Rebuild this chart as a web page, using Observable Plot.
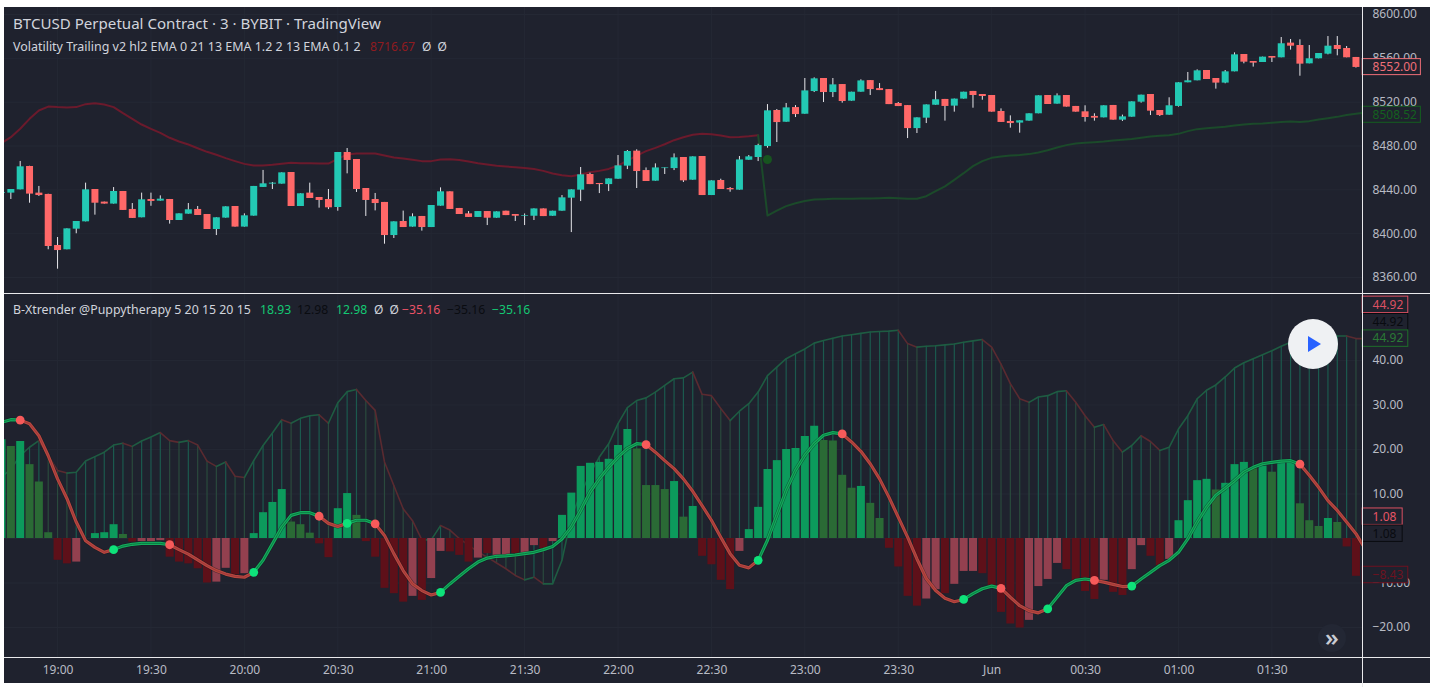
<!DOCTYPE html>
<html><head><meta charset="utf-8">
<script src="https://cdn.jsdelivr.net/npm/d3@7"></script>
<script src="https://cdn.jsdelivr.net/npm/@observablehq/plot@0.6"></script>
<style>
html,body{margin:0;padding:0;background:#fff;overflow:hidden}
#chart{position:absolute;left:0;top:0;width:1439px;height:694px;font-family:"Noto Sans",sans-serif}
#bg{position:absolute;left:4px;top:7px;width:1426px;height:676px;background:#1f222e}
.pane{position:absolute;left:4px}
.pane svg{display:block;overflow:visible}
.line{position:absolute;background:#e9e9ec}
.t{position:absolute;white-space:pre;line-height:16px;color:#c9ccd4}
#play{position:absolute;left:1288px;top:319px;width:50px;height:50px;border-radius:50%;background:#eff1f3}
#play:after{content:"";position:absolute;left:20px;top:17px;border-left:13px solid #2962ff;border-top:8px solid transparent;border-bottom:8px solid transparent}
#more{position:absolute;left:1318px;top:624px;width:28px;height:28px;border-radius:50%;background:#232734;color:#c9ccd4;font-size:24px;font-weight:600;line-height:25px;text-align:center}
</style></head><body>
<div id="chart"><div id="bg"></div></div>
<script>
const firstBar = -6;
const opens = [
8436.9,8437.0,8440.0,8461.3,8437.0,8435.8,8389.2,8385.3,8404.1,8410.8,
8440.3,8428.8,8427.0,8438.5,8422.1,8414.5,8431.2,8429.7,8431.2,8412.0,
8417.8,8422.1,8417.5,8403.8,8414.2,8424.8,8406.0,8416.0,8442.2,8445.2,
8445.2,8455.8,8424.8,8437.0,8433.0,8431.2,8423.9,8474.1,8467.7,8441.2,
8431.2,8428.5,8398.3,8411.1,8406.0,8415.7,8405.6,8425.1,8438.2,8423.0,
8418.1,8414.8,8420.2,8414.1,8420.5,8417.5,8415.9,8415.9,8422.6,8415.9,
8420.5,8432.4,8439.7,8454.0,8445.8,8444.8,8449.7,8461.6,8475.3,8457.6,
8447.9,8459.4,8459.4,8469.5,8448.8,8470.4,8434.8,8448.5,8441.2,8439.7,
8467.0,8469.5,8479.5,8512.4,8501.7,8515.1,8509.0,8529.7,8541.6,8528.8,
8536.1,8520.9,8529.1,8539.7,8532.4,8531.5,8518.8,8516.9,8495.9,8505.4,
8517.2,8522.5,8516.4,8522.8,8529.8,8527.0,8526.1,8511.5,8502.4,8500.9,
8502.7,8509.4,8526.1,8518.2,8526.1,8516.1,8511.2,8507.0,8505.7,8517.0,
8503.6,8506.3,8520.0,8527.0,8512.4,8508.1,8516.1,8537.7,8539.5,8548.9,
8541.6,8537.4,8547.7,8563.5,8557.1,8556.2,8561.7,8560.5,8573.9,8571.7,
8555.0,8559.6,8563.8,8571.7,8569.0,8560.8];
const closes = [
8437.6,8440.3,8461.0,8436.1,8434.8,8388.3,8384.6,8404.4,8411.1,8440.0,
8427.8,8427.0,8438.5,8421.2,8413.9,8430.9,8429.4,8431.5,8412.0,8418.1,
8421.8,8416.6,8403.8,8414.5,8424.5,8406.0,8416.3,8443.1,8445.5,8446.1,
8455.5,8424.8,8436.4,8432.1,8430.3,8423.6,8474.1,8466.8,8440.3,8430.3,
8427.5,8398.3,8410.8,8405.6,8415.4,8405.6,8425.7,8438.2,8422.1,8417.5,
8414.8,8420.2,8414.1,8419.9,8416.5,8415.9,8416.5,8422.6,8415.6,8420.5,
8432.7,8440.0,8453.7,8444.8,8444.8,8450.0,8461.9,8475.0,8456.7,8447.6,
8460.0,8460.0,8469.2,8448.2,8470.1,8434.8,8448.2,8440.3,8440.0,8467.3,
8470.1,8480.4,8512.1,8501.4,8514.8,8508.7,8530.3,8541.3,8528.8,8535.8,
8520.6,8529.1,8539.4,8531.5,8530.6,8517.8,8516.0,8495.9,8505.7,8517.5,
8522.2,8516.1,8522.8,8529.1,8526.1,8525.2,8510.9,8501.5,8500.5,8503.0,
8509.4,8525.8,8517.9,8525.8,8515.5,8510.9,8506.0,8505.4,8516.7,8503.6,
8506.6,8520.3,8526.4,8511.8,8507.8,8516.7,8537.7,8539.5,8548.6,8540.7,
8537.4,8547.7,8563.2,8556.5,8555.6,8561.1,8560.2,8573.3,8571.1,8554.7,
8559.6,8564.4,8571.1,8568.1,8560.5,8551.7];
const highs = [
8438.5,8440.3,8465.9,8461.5,8443.1,8436.0,8396.5,8404.4,8411.1,8446.1,
8440.3,8428.8,8442.1,8438.5,8427.5,8437.0,8437.0,8434.5,8431.2,8418.1,
8427.5,8424.8,8417.5,8414.5,8424.5,8424.8,8418.1,8443.1,8457.7,8446.7,
8455.5,8455.8,8436.4,8446.1,8433.0,8440.3,8474.1,8477.7,8467.7,8441.2,
8436.7,8428.5,8410.8,8420.6,8418.1,8415.7,8425.7,8441.8,8438.2,8423.0,
8420.2,8420.2,8420.2,8419.9,8420.5,8417.5,8418.0,8422.6,8422.6,8420.5,
8434.8,8440.0,8460.4,8455.2,8445.8,8450.0,8471.3,8475.9,8476.5,8460.0,
8463.7,8460.0,8472.8,8469.5,8470.1,8470.4,8448.2,8449.7,8442.1,8470.4,
8471.3,8481.6,8517.8,8513.3,8518.8,8516.9,8541.6,8542.2,8541.6,8541.6,
8536.1,8529.1,8540.4,8539.7,8537.0,8531.5,8519.7,8516.9,8505.7,8517.5,
8529.8,8522.5,8522.8,8529.1,8529.8,8527.0,8526.1,8513.9,8507.5,8503.0,
8509.4,8525.8,8526.1,8527.6,8526.1,8516.1,8516.7,8509.4,8516.7,8517.0,
8508.2,8520.3,8526.4,8527.0,8512.4,8524.0,8537.7,8547.1,8549.5,8548.9,
8541.6,8548.9,8565.0,8563.5,8557.1,8561.1,8561.7,8579.0,8577.2,8576.9,
8571.7,8564.4,8579.9,8579.9,8570.8,8560.8];
const lows = [
8436.5,8431.2,8440.0,8427.8,8434.0,8385.3,8367.6,8385.3,8399.9,8410.8,
8416.9,8427.0,8427.0,8421.2,8413.9,8414.5,8425.0,8429.7,8408.7,8412.0,
8417.8,8416.6,8403.8,8398.3,8414.2,8406.0,8406.0,8416.0,8442.2,8440.3,
8445.2,8424.8,8424.8,8432.1,8423.3,8422.0,8420.5,8454.6,8437.6,8415.7,
8420.8,8390.4,8395.6,8405.6,8406.0,8402.3,8405.6,8425.1,8422.1,8417.5,
8414.8,8414.8,8407.4,8414.1,8416.5,8411.1,8407.4,8412.0,8415.6,8415.9,
8420.5,8401.0,8429.3,8444.8,8436.6,8438.4,8449.7,8458.5,8441.2,8447.6,
8447.9,8454.0,8457.6,8446.7,8448.8,8434.8,8434.8,8440.3,8437.8,8439.7,
8467.0,8465.8,8478.0,8483.2,8501.7,8506.0,8509.0,8528.8,8519.7,8524.2,
8519.1,8520.9,8529.1,8526.1,8530.6,8517.8,8516.0,8486.8,8491.4,8500.5,
8517.2,8502.7,8510.9,8522.8,8514.5,8521.8,8510.9,8501.5,8496.3,8491.7,
8502.7,8509.4,8517.9,8518.2,8515.5,8510.9,8501.8,8502.7,8505.7,8503.6,
8502.4,8506.3,8519.1,8507.8,8506.9,8508.1,8515.5,8537.7,8539.5,8540.7,
8531.9,8536.8,8547.7,8555.0,8552.0,8556.2,8556.2,8560.5,8567.5,8543.7,
8555.0,8559.6,8563.2,8562.3,8560.5,8551.1];
// trailing stop: red from the first bar to bar 75, green from bar 75 on (runs into the axis)
const trailRed = [
8482.6,8488.1,8495.7,8504.8,8512.4,8516.0,8515.5,8515.2,8515.5,8518.2,
8519.1,8517.9,8515.5,8510.0,8504.8,8499.6,8495.7,8492.0,8487.5,8484.1,
8481.4,8478.0,8474.7,8472.0,8468.9,8466.2,8463.7,8462.2,8462.2,8462.8,
8463.7,8464.7,8464.3,8464.3,8464.0,8464.0,8468.3,8472.3,8473.2,8473.2,
8473.2,8471.3,8469.5,8468.6,8467.4,8466.2,8466.2,8467.7,8468.0,8467.3,
8465.8,8464.3,8463.1,8461.9,8461.3,8460.7,8460.0,8459.1,8457.3,8454.9,
8453.4,8452.4,8454.0,8456.1,8457.3,8459.1,8462.2,8466.7,8471.3,8475.3,
8478.3,8481.6,8485.3,8488.0,8490.2,8491.1,8490.8,8489.6,8488.0,8488.3,
8489.0,8489.9];
const trailGreenStart = 75;
const trailGreen = [
8489.9,8416.5,8421.1,8425.1,8427.8,8429.9,8431.1,8431.5,8431.8,8431.8,
8431.8,8432.1,8432.1,8432.4,8432.7,8432.4,8431.8,8431.8,8434.2,8438.8,
8443.1,8449.1,8455.2,8461.6,8466.2,8469.2,8470.4,8471.3,8471.7,8472.6,
8474.1,8476.2,8478.6,8480.8,8482.3,8482.9,8483.5,8484.1,8485.0,8485.6,
8486.3,8487.5,8488.7,8489.3,8489.9,8491.1,8493.6,8495.4,8496.3,8496.9,
8497.5,8498.7,8499.6,8500.2,8500.5,8501.2,8501.8,8502.4,8501.8,8502.7,
8504.2,8505.4,8506.6,8508.2,8509.4,8510.6];
const trailDot = {bar:76, price:8467.7};
const histValues = [
22.2,20.7,21.8,16.6,12.7,1.3,-4.9,-5.7,-5.3,0,
1.1,1.3,3.1,0.9,-0.8,-0.7,-0.7,-0.5,-4.2,-5.3,
-5.7,-6.8,-10.0,-9.8,-6.7,-8.2,-7.9,1.1,5.8,8.1,
11.0,3.7,3.1,1.2,-1.2,-4.3,6.7,10.1,5.2,-0.7,
-4.2,-11.2,-12.4,-14.3,-13.0,-13.9,-9.0,-2.9,-3.0,-3.8,
-5.3,-4.4,-3.4,-3.8,-3.8,-3.4,-3.7,-1.6,-2.3,-0.7,
5.2,10.2,16.2,16.9,17.1,17.8,20.9,24.5,20.1,11.9,
11.9,11.0,12.8,4.8,7.2,-4.0,-5.9,-9.4,-11.5,-2.9,
2.0,7.0,15.5,17.5,20.0,20.2,22.9,25.2,22.0,21.9,
14.2,11.3,11.7,7.9,4.5,-2.2,-6.4,-13.0,-15.2,-13.6,
-11.5,-12.4,-10.3,-7.4,-7.4,-7.9,-10.6,-16.6,-19.2,-20.1,
-18.4,-10.8,-9.2,-5.6,-7.0,-9.8,-11.9,-13.7,-9.4,-12.1,
-12.8,-7.0,-1.6,-4.0,-6.1,-4.7,4.0,8.5,13.0,13.3,
10.9,12.4,16.6,17.1,15.7,16.3,14.9,17.2,17.4,7.8,
4.0,2.7,4.5,3.6,-1.9,-8.5];
// b rising green, d falling green, r falling red, l rising red
const histTones = ("bdbdddrrlb"+"bbbdrlllrr"+"rrrllrlbbb"+"bdddrrbbdr"+"rrrrlrllrr"+
  "rlrllrllrl"+"bbbbbbbbdd"+"ddbdbrrrrl"+"bbbbbbbbdd"+"ddbddrrrrl"+
  "lrlllrrrrr"+"llllrrrrlr"+"rllrrlbbbb"+"dbbbdbdbbd"+"ddbdrr").split("");
const slowLine = [
13.8,15.6,18.6,20.5,22.0,18.6,15.3,14.7,14.9,17.4,
18.4,19.4,21.0,21.4,20.7,21.9,22.8,23.8,22.0,21.6,
22.0,21.0,17.4,16.2,17.2,14.0,13.7,17.5,20.9,23.7,
26.7,25.9,27.0,27.6,27.8,25.9,30.5,33.0,33.5,31.0,
28.8,17.2,11.9,6.7,4.0,-0.3,-0.3,2.9,1.9,0.0,
-1.5,-3.0,-4.2,-5.5,-6.8,-8.3,-9.3,-8.7,-10.2,-10.2,
-4.9,4.8,10.0,14.5,18.3,21.3,25.8,29.4,31.0,31.6,
32.9,34.4,35.9,36.1,37.4,32.4,32.1,29.2,26.5,28.6,
30.3,32.9,36.6,38.5,40.4,41.5,42.6,43.9,44.5,45.0,
45.5,45.8,46.1,46.4,46.5,46.6,46.8,43.8,43.0,43.2,
43.3,43.5,43.7,44.1,44.4,44.7,43.0,39.2,34.8,31.4,
30.6,31.8,32.1,33.0,33.2,30.6,27.6,25.0,25.6,22.0,
19.4,20.9,23.1,21.8,19.8,20.5,24.6,27.6,31.4,33.3,
34.5,36.3,38.3,39.5,40.4,41.3,42.2,43.2,44.1,44.5,
44.9,45.1,45.2,45.5,45.5,44.92,44.9];
const fastLine = [
26.1,26.7,26.6,25.8,23.1,18.6,13.4,9.0,3.7,-0.5,
-2.0,-3.1,-2.5,-1.7,-1.3,-1.1,-1.1,-1.1,-1.4,-2.5,
-3.5,-4.8,-6.1,-7.2,-8.0,-8.5,-8.7,-7.6,-4.9,-1.2,
2.5,5.2,5.8,5.8,5.0,3.4,2.7,3.4,4.1,4.1,
3.3,0.7,-3.4,-7.2,-10.2,-11.7,-12.7,-12.1,-10.2,-8.5,
-6.8,-5.3,-4.4,-4.0,-3.9,-3.7,-3.4,-3.1,-2.5,-1.8,
-0.1,2.6,6.3,10.4,13.4,16.0,18.3,20.2,21.3,21.1,
19.4,17.5,15.7,13.4,10.6,7.4,4.1,0.3,-3.4,-6.0,
-6.6,-4.9,-0.4,5.2,10.8,15.3,18.7,21.3,23.2,23.8,
23.5,21.7,19.6,16.8,13.4,9.3,4.8,0.3,-4.6,-9.0,
-11.7,-13.4,-14.2,-13.7,-12.4,-11.3,-10.7,-11.2,-13.2,-15.1,
-16.2,-16.7,-15.8,-13.2,-10.6,-9.4,-9.1,-9.4,-9.8,-10.3,
-10.8,-10.7,-9.1,-7.6,-6.1,-4.9,-3.1,-0.1,3.7,7.0,
9.7,11.3,13.0,14.9,16.0,16.8,17.1,17.4,17.5,16.7,
14.2,11.5,8.5,6.3,3.7,1.08,-2.4];
// bars where the fast line changes colour: red, green, red, ... starting from green
const fastTurns = [-4,6,12,21,28,31,34,41,63,75,84,97,101,106,111,115,133];
const priceTicks = [8360,8400,8440,8480,8520,8560,8600];
const oscTicks = [-20,-10,10,20,30,40];
const oscGrid = [-20,-10,0,10,20,30,40];
const timeTicks = ["19:00","19:30","20:00","20:30","21:00","21:30","22:00","22:30","23:00","23:30","Jun","00:30","01:00","01:30"];
const priceLabels = [
  {text:"8552.00",at:8552,stroke:"#ef6f78",color:"#ef6f78",right:145.85},
  {text:"8508.52",at:8508.52,stroke:"#14601f",color:"#14601f",right:145.85}];
const oscLabels = [
  {text:"44.92",at:52.5,stroke:"#dc5062",color:"#dc5062",right:144.5},
  {text:"44.92",at:48.6,stroke:"#090b10",color:"#090b10",right:144.5},
  {text:"44.92",at:44.92,stroke:"#1f6f2a",color:"#2a7a35",right:144.5},
  {text:"1.08",at:4.9,stroke:"#dc5062",color:"#e85566",right:143.9},
  {text:"1.08",at:1.08,stroke:"#090b10",color:"#090b10",right:143.9},
  {text:"\u22128.43",at:-8.2,stroke:"#6e1220",color:"#6e1220",right:144.5}];

const UP="#23c9b4", DOWN="#ff6868", WICK="#e6e6ea", GRID="#242834", AXIS="#b8bbc4";
const RED_TRAIL="#6b1a2c", GREEN_TRAIL="#1b4a2a";
const toneColor={b:"#0c9a5c",d:"#2a6a35",r:"#5e1019",l:"#93404f"};
const time=i=>new Date(Date.UTC(2019,4,31,19)+i*180000);
const xDomain=[time(-5.68),time(139.7)];
const WIDTH=1426, RIGHT=68;
const FONT='"Noto Sans",sans-serif';
const base={width:WIDTH,marginLeft:0,marginRight:RIGHT,marginTop:0,marginBottom:0,
  x:{type:"utc",domain:xDomain,axis:null},color:{type:"identity"},
  style:{background:"transparent",color:AXIS,fontFamily:FONT,fontSize:"12px"}};
const timeGrid=d3.range(0,14).map(k=>time(k*10));
const labelMarks=(rows,half)=>[
  Plot.rect(rows,{x1:()=>time(139.72),x2:d=>time(d.right+0.1),y1:d=>d.at-half,y2:d=>d.at+half,fill:"#1f222e",stroke:"stroke",strokeWidth:1}),
  Plot.text(rows,{x:()=>time(140.78),y:"at",text:"text",fill:"color",textAnchor:"start",fontSize:12})];

const candles=opens.map((o,k)=>({t:time(k+firstBar),open:o,close:closes[k],high:highs[k],low:lows[k]}));
const pricePane=Plot.plot({...base,height:286,
  y:{domain:[8345.4,8606.4],range:[286,0],axis:null},
  marks:[
    Plot.gridX(timeGrid,{stroke:GRID,strokeOpacity:1}),
    Plot.gridY(priceTicks,{stroke:GRID,strokeOpacity:1}),
    Plot.axisY(priceTicks,{anchor:"right",tickSize:0,tickPadding:10,tickFormat:d3.format(".2f"),label:null,fill:AXIS}),
    Plot.lineY(trailRed,{x:(d,k)=>time(k+firstBar),y:d=>d,stroke:RED_TRAIL,strokeWidth:2,clip:true}),
    Plot.lineY(trailGreen,{x:(d,k)=>time(k+trailGreenStart),y:d=>d,stroke:GREEN_TRAIL,strokeWidth:2,clip:true}),
    Plot.dot([trailDot],{x:d=>time(d.bar),y:"price",r:4.5,fill:"#17541f"}),
    Plot.ruleX(candles,{x:"t",y1:"low",y2:"high",stroke:WICK,strokeWidth:1,clip:true}),
    Plot.ruleX(candles,{x:"t",y1:"open",y2:"close",stroke:d=>d.close>=d.open?UP:DOWN,strokeWidth:7,clip:true}),
    ...labelMarks(priceLabels,7.3)
  ]});

const stateAt=k=>{const bar=k+firstBar;let up=true;for(const b of fastTurns)if(bar>=b)up=!up;return up;};
const osc=fastLine.map((v,k)=>({t:time(k+firstBar),hist:histValues[k],tone:histTones[k],slow:slowLine[k],fast:v,
  slowNextUp:k+1<slowLine.length?slowLine[k+1]>=slowLine[k]:false,
  slowUp:k===0||slowLine[k]>=slowLine[k-1],fastUp:stateAt(k)}));
const histRows=osc.filter(d=>d.hist!==undefined);
const dots=fastTurns.map((b,n)=>({t:time(b),v:fastLine[b-firstBar],up:n%2===1}));
const oscPane=Plot.plot({...base,height:363,
  y:{domain:[-26.74,54.83],range:[363,0],axis:null},
  marks:[
    Plot.gridX(timeGrid,{stroke:GRID,strokeOpacity:1}),
    Plot.gridY(oscGrid,{stroke:GRID,strokeOpacity:1}),
    Plot.axisY(oscTicks,{anchor:"right",tickSize:0,tickPadding:10,tickFormat:d3.format(".2f"),label:null,fill:AXIS}),
    Plot.ruleX(histRows,{x:"t",y1:0,y2:"slow",stroke:d=>d.slowUp?"#1b5a4e":"#2a4a3d",strokeWidth:1.2,clip:true}),
    Plot.line(osc,{x:"t",y:"slow",z:null,stroke:d=>d.slowNextUp?"#1e5c42":"#5a2a30",strokeWidth:1.6,clip:true}),
    Plot.ruleX(histRows,{x:"t",y1:0,y2:"hist",stroke:d=>toneColor[d.tone],strokeWidth:8,clip:true}),
    Plot.line(osc,{x:"t",y:"fast",stroke:"#10161c",strokeWidth:4.2,strokeOpacity:0.5,clip:true}),
    Plot.line(osc,{x:"t",y:"fast",z:null,stroke:d=>d.fastUp?"#14ad5c":"#b8473f",strokeWidth:3.2,clip:true}),
    Plot.line(osc,{x:"t",y:"fast",z:null,stroke:d=>d.fastUp?"#0b7a44":"#a0393a",strokeWidth:1,clip:true}),
    Plot.dot(dots,{x:"t",y:"v",r:4.4,fill:d=>d.up?"#0ee27a":"#f75a5a"}),
    ...labelMarks(oscLabels,1.85)
  ]});

const axisBar=Plot.plot({...base,height:25,
  y:{domain:[0,1],axis:null},
  marks:[
    Plot.text(timeGrid,{x:d=>d,frameAnchor:"middle",text:(d,k)=>timeTicks[k],fill:AXIS,fontSize:12,dx:0.5,dy:-1})
  ]});

const chartEl=document.getElementById("chart");
function place(node,topPx){const w=document.createElement("div");w.className="pane";w.style.top=topPx+"px";w.appendChild(node);chartEl.appendChild(w);}
place(pricePane,7);place(oscPane,294);place(axisBar,658);
function frameLine(l,t,w,h){const d=document.createElement("div");d.className="line";d.style.cssText=`left:${l}px;top:${t}px;width:${w}px;height:${h}px`;chartEl.appendChild(d);}
frameLine(4,293,1426,1);frameLine(4,657,1426,1);frameLine(1362,7,1,680);
function legendText(text,l,t,size,color){const s=document.createElement("div");s.className="t";s.textContent=text;s.style.cssText=`left:${l}px;top:${t}px;font-size:${size}px;color:${color}`;chartEl.appendChild(s);}
legendText("BTCUSD Perpetual Contract · 3 · BYBIT · TradingView",13,15,15.1,"#d1d4dc");
legendText("Volatility Trailing v2 hl2 EMA 0 21 13 EMA 1.2 2 13 EMA 0.1 2",13,39,12.46,"#d1d4dc");
legendText("8716.67",370,39,12.2,"#8f1b20");
legendText("Ø  Ø",422,39,12,"#d1d4dc");
legendText("B-Xtrender @Puppytherapy 5 20 15 20 15",13,302,12.36,"#d1d4dc");
legendText("18.93",260,302,12.2,"#14c873");
legendText("12.98",297,302,12.2,"#0a0c11");
legendText("12.98",336,302,12.2,"#14c873");
legendText("Ø  Ø",374,302,12,"#d1d4dc");
legendText("\u221235.16",402,302,12.2,"#ec5266");
legendText("\u221235.16",447,302,12.2,"#0a0c11");
legendText("\u221235.16",492,302,12.2,"#14c873");
const playEl=document.createElement("div");playEl.id="play";chartEl.appendChild(playEl);
const moreEl=document.createElement("div");moreEl.id="more";moreEl.textContent="»";chartEl.appendChild(moreEl);
</script></body></html>
